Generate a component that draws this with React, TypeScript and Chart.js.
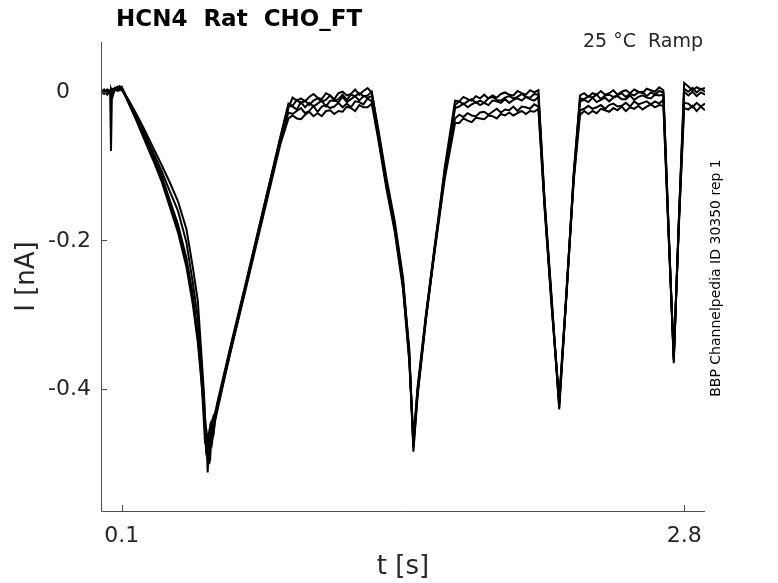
import React, { useEffect, useRef } from 'react';
import { Chart, registerables } from 'chart.js';

Chart.register(...registerables);

// time base shared by every sweep (s)
const sweepTimes = [
  0, 0.015, 0.03, 0.044, 0.048, 0.052, 0.065, 0.08, 0.09, 0.1,
  0.13, 0.17, 0.21, 0.25, 0.29, 0.33, 0.37, 0.41, 0.44, 0.465,
  0.48, 0.487, 0.494, 0.5, 0.506, 0.512, 0.518, 0.525, 0.532, 0.54, 0.55, 0.56,
  0.62, 0.7, 0.78, 0.86, 0.9,
  0.92, 0.94, 0.96, 0.98, 1, 1.02, 1.04, 1.06, 1.08, 1.1, 1.12, 1.14, 1.16, 1.18, 1.2, 1.22, 1.24, 1.26, 1.28, 1.3,
  1.33, 1.37, 1.41, 1.45, 1.48, 1.5, 1.52, 1.56, 1.6, 1.65, 1.7,
  1.72, 1.74, 1.76, 1.78, 1.8, 1.82, 1.84, 1.86, 1.88, 1.9, 1.92, 1.94, 1.96, 1.98, 2, 2.02, 2.04, 2.06, 2.08, 2.1,
  2.13, 2.165, 2.2, 2.235, 2.27, 2.3,
  2.32, 2.34, 2.36, 2.38, 2.4, 2.42, 2.44, 2.46, 2.48, 2.5, 2.52, 2.54, 2.56, 2.58, 2.6, 2.62, 2.64, 2.66, 2.68, 2.7,
  2.725, 2.75, 2.775, 2.8,
  2.82, 2.84, 2.86, 2.88, 2.9,
];

// current of each sweep (nA)
const sweep1 = [
  0, 0.003, -0.003, 0.002, -0.002, 0.001, 0.004, 0.007, 0.003, 0.006,
  -0.014, -0.039, -0.066, -0.092, -0.12, -0.155, -0.19, -0.236, -0.285, -0.338,
  -0.384, -0.405, -0.43, -0.462, -0.49, -0.47, -0.502, -0.468, -0.475, -0.458, -0.44, -0.428,
  -0.352, -0.258, -0.163, -0.067, -0.022,
  -0.008, -0.012, -0.009, -0.013, -0.007, -0.003, -0.008, -0.01, -0.002, -0.005, -0.01, -0.002, 0, -0.005, -0.003, 0.003, -0.004, 0.001, 0.005, -0.001,
  -0.048, -0.115, -0.174, -0.25, -0.352, -0.48, -0.41, -0.308, -0.217, -0.103, -0.012,
  -0.013, -0.007, -0.01, -0.012, -0.006, -0.009, -0.004, -0.009, -0.005, -0.008, -0.003, -0.001, -0.004, -0.005, 0.001, -0.002, -0.004, 0.002, -0.001, 0.002,
  -0.146, -0.282, -0.428, -0.27, -0.108, -0.005,
  -0.002, -0.007, -0.002, -0.004, 0.001, -0.004, -0.002, 0.002, -0.004, 0, 0.002, -0.002, 0.003, 0, -0.002, 0.004, 0.002, 0, 0.006, 0.002,
  -0.18, -0.366, -0.168, 0.012,
  0.007, 0.002, 0.006, 0.003, 0.005,
];
const sweep2 = [
  -0.002, 0, 0.002, -0.003, -0.08, -0.01, 0.002, 0.004, 0.007, 0.003,
  -0.013, -0.037, -0.063, -0.089, -0.117, -0.151, -0.185, -0.23, -0.279, -0.332,
  -0.378, -0.41, -0.445, -0.475, -0.455, -0.513, -0.48, -0.455, -0.468, -0.463, -0.435, -0.421,
  -0.348, -0.254, -0.158, -0.062, -0.016,
  -0.019, -0.011, -0.016, -0.012, -0.018, -0.012, -0.009, -0.013, -0.011, -0.005, -0.012, -0.01, -0.004, -0.011, -0.004, -0.006, -0.002, -0.006, -0.005, 0,
  -0.052, -0.12, -0.178, -0.255, -0.355, -0.472, -0.402, -0.303, -0.212, -0.107, -0.018,
  -0.013, -0.017, -0.013, -0.01, -0.015, -0.012, -0.015, -0.009, -0.007, -0.011, -0.012, -0.008, -0.006, -0.009, -0.007, -0.003, -0.007, -0.008, -0.003, -0.004,
  -0.15, -0.287, -0.42, -0.272, -0.111, -0.009,
  -0.01, -0.006, -0.008, -0.004, -0.01, -0.005, -0.004, -0.007, -0.005, -0.002, -0.007, -0.003, -0.005, -0.001, 0, -0.006, -0.001, -0.004, 0.001, -0.001,
  -0.184, -0.36, -0.17, 0.004,
  0, 0.005, -0.001, 0.004, 0,
];
const sweep3 = [
  0.001, -0.002, 0.003, 0, 0.001, -0.003, 0.004, 0.001, 0.006, 0.004,
  -0.011, -0.035, -0.06, -0.086, -0.112, -0.146, -0.179, -0.224, -0.272, -0.326,
  -0.37, -0.395, -0.425, -0.455, -0.486, -0.46, -0.478, -0.49, -0.45, -0.442, -0.44, -0.425,
  -0.35, -0.256, -0.16, -0.064, -0.019,
  -0.02, -0.024, -0.014, -0.021, -0.015, -0.02, -0.016, -0.012, -0.02, -0.012, -0.012, -0.014, -0.007, -0.014, -0.01, -0.006, -0.012, -0.006, -0.008, -0.006,
  -0.055, -0.123, -0.181, -0.258, -0.346, -0.485, -0.408, -0.306, -0.218, -0.11, -0.022,
  -0.02, -0.016, -0.021, -0.017, -0.014, -0.018, -0.015, -0.018, -0.012, -0.013, -0.015, -0.01, -0.015, -0.011, -0.009, -0.012, -0.007, -0.01, -0.012, -0.007,
  -0.152, -0.289, -0.425, -0.274, -0.113, -0.013,
  -0.011, -0.014, -0.008, -0.014, -0.011, -0.008, -0.013, -0.008, -0.006, -0.01, -0.01, -0.005, -0.011, -0.007, -0.005, -0.008, -0.009, -0.004, -0.005, -0.004,
  -0.186, -0.362, -0.172, 0,
  -0.005, 0, -0.006, -0.001, -0.004,
];
const sweep4 = [
  -0.001, 0.002, -0.004, 0.002, 0, 0.004, 0.001, 0.005, 0.002, 0.006,
  -0.011, -0.033, -0.057, -0.081, -0.106, -0.134, -0.161, -0.203, -0.256, -0.305,
  -0.36, -0.39, -0.415, -0.445, -0.47, -0.495, -0.46, -0.45, -0.462, -0.447, -0.43, -0.417,
  -0.345, -0.252, -0.157, -0.066, -0.028,
  -0.03, -0.026, -0.022, -0.029, -0.026, -0.019, -0.027, -0.02, -0.018, -0.022, -0.02, -0.015, -0.021, -0.016, -0.021, -0.013, -0.014, -0.017, -0.009, -0.013,
  -0.058, -0.126, -0.184, -0.262, -0.36, -0.468, -0.398, -0.3, -0.214, -0.114, -0.036,
  -0.031, -0.034, -0.029, -0.032, -0.033, -0.028, -0.027, -0.031, -0.027, -0.023, -0.028, -0.024, -0.025, -0.02, -0.026, -0.02, -0.021, -0.023, -0.017, -0.02,
  -0.155, -0.292, -0.415, -0.268, -0.116, -0.025,
  -0.023, -0.019, -0.023, -0.021, -0.018, -0.023, -0.018, -0.016, -0.02, -0.019, -0.015, -0.02, -0.013, -0.017, -0.015, -0.013, -0.017, -0.013, -0.016, -0.011,
  -0.19, -0.355, -0.175, -0.015,
  -0.016, -0.021, -0.015, -0.02, -0.016,
];
const sweep5 = [
  0.002, -0.003, 0, -0.001, 0.003, 0, 0.005, 0.002, 0.007, 0.002,
  -0.01, -0.03, -0.052, -0.075, -0.098, -0.122, -0.148, -0.185, -0.235, -0.282,
  -0.345, -0.375, -0.405, -0.44, -0.462, -0.475, -0.488, -0.472, -0.445, -0.437, -0.432, -0.422,
  -0.353, -0.26, -0.166, -0.072, -0.036,
  -0.032, -0.036, -0.037, -0.031, -0.027, -0.033, -0.029, -0.033, -0.026, -0.025, -0.03, -0.026, -0.027, -0.02, -0.022, -0.026, -0.018, -0.021, -0.021, -0.016,
  -0.062, -0.13, -0.188, -0.266, -0.363, -0.476, -0.404, -0.304, -0.22, -0.118, -0.042,
  -0.042, -0.036, -0.039, -0.041, -0.035, -0.036, -0.037, -0.032, -0.033, -0.036, -0.03, -0.032, -0.028, -0.032, -0.029, -0.026, -0.03, -0.026, -0.027, -0.023,
  -0.158, -0.295, -0.418, -0.273, -0.119, -0.031,
  -0.026, -0.03, -0.026, -0.029, -0.023, -0.025, -0.027, -0.022, -0.025, -0.02, -0.026, -0.021, -0.023, -0.019, -0.024, -0.02, -0.017, -0.021, -0.018, -0.019,
  -0.192, -0.358, -0.178, -0.022,
  -0.024, -0.019, -0.026, -0.02, -0.025,
];
const sweeps = [sweep1, sweep2, sweep3, sweep4, sweep5];

const xTicks = [0.1, 2.8];
const yTicks = [-0.4, -0.2, 0];

const titleText = 'HCN4  Rat  CHO_FT';
const conditionText = '25 °C  Ramp';
const sourceText = 'BBP Channelpedia ID 30350 rep 1';

const FONT = '"DejaVu Sans"';
const TEXT_COLOR = '#262626';

// MATLAB-like axes: inward ticks, y labels lined up on the decimal point, extra texts
const matlabAxes = {
  id: 'matlabAxes',
  afterDraw(chart: any) {
    const { ctx, chartArea, scales } = chart;
    const { left, right, top, bottom } = chartArea;
    ctx.save();
    ctx.strokeStyle = '#4d4d4d';
    ctx.lineWidth = 1;
    ctx.beginPath();
    ctx.moveTo(left + 0.5, top);
    ctx.lineTo(left + 0.5, bottom + 0.5);
    ctx.lineTo(right, bottom + 0.5);
    yTicks.forEach((v) => {
      const y = Math.round(scales.y.getPixelForValue(v)) + 0.5;
      ctx.moveTo(left, y);
      ctx.lineTo(left + 6, y);
    });
    xTicks.forEach((v) => {
      const x = Math.round(scales.x.getPixelForValue(v)) + 0.5;
      ctx.moveTo(x, bottom);
      ctx.lineTo(x, bottom - 6);
    });
    ctx.stroke();

    ctx.fillStyle = TEXT_COLOR;
    ctx.font = `22px ${FONT}`;
    ctx.textBaseline = 'middle';
    const pointX = left - 31;
    yTicks.forEach((v) => {
      const [intPart, fracPart] = String(v).split('.');
      const y = scales.y.getPixelForValue(v) + 1;
      ctx.textAlign = 'right';
      ctx.fillText(intPart, pointX, y);
      if (fracPart) {
        ctx.textAlign = 'left';
        ctx.fillText('.' + fracPart, pointX, y);
      }
    });

    ctx.fillStyle = '#000';
    ctx.textBaseline = 'alphabetic';
    ctx.textAlign = 'left';
    ctx.font = `bold 23px ${FONT}`;
    ctx.fillText(titleText, 116, 26);

    ctx.fillStyle = TEXT_COLOR;
    ctx.textAlign = 'right';
    ctx.font = `19px ${FONT}`;
    ctx.fillText(conditionText, 703, 47);

    ctx.translate(716, 278);
    ctx.rotate(-Math.PI / 2);
    ctx.textAlign = 'center';
    ctx.textBaseline = 'middle';
    ctx.fillStyle = '#000';
    ctx.font = `14px ${FONT}`;
    ctx.fillText(sourceText, 0, 0);
    ctx.restore();
  },
};

const App: React.FC = () => {
  const canvasRef = useRef<HTMLCanvasElement | null>(null);
  const chartRef = useRef<Chart | null>(null);

  useEffect(() => {
    if (!canvasRef.current) return;
    const ctx = canvasRef.current.getContext('2d');
    if (chartRef.current) {
      chartRef.current.destroy();
    }

    chartRef.current = new Chart(ctx!, {
      type: 'line',
      data: {
        datasets: sweeps.map((sweep, i) => ({
          label: `sweep ${i + 1}`,
          data: sweepTimes.map((t, j) => ({ x: t, y: sweep[j] })),
          borderColor: '#000',
          borderWidth: 2,
          pointRadius: 0,
          tension: 0,
          fill: false,
        })),
      },
      options: {
        responsive: false,
        animation: false,
        devicePixelRatio: 1,
        layout: { padding: { left: 0, right: 73, top: 42, bottom: 0 } },
        plugins: {
          legend: { display: false },
          tooltip: { enabled: false },
          title: { display: false },
        },
        scales: {
          x: {
            type: 'linear',
            min: 0,
            max: 2.9,
            grid: { display: false, drawTicks: false },
            border: { display: false },
            afterBuildTicks: (scale: any) => {
              scale.ticks = xTicks.map((v) => ({ value: v }));
            },
            afterFit: (scale: any) => {
              scale.height = 72;
            },
            ticks: {
              autoSkip: false,
              maxRotation: 0,
              padding: 12,
              color: TEXT_COLOR,
              font: { family: 'DejaVu Sans', size: 22 },
              callback: (v: any) => String(v),
            },
            title: {
              display: true,
              text: 't [s]',
              color: TEXT_COLOR,
              font: { family: 'DejaVu Sans', size: 26 },
              padding: { top: 0, bottom: 0 },
            },
          },
          y: {
            type: 'linear',
            min: -0.565,
            max: 0.067,
            grid: { display: false, drawTicks: false },
            border: { display: false },
            afterBuildTicks: (scale: any) => {
              scale.ticks = yTicks.map((v) => ({ value: v }));
            },
            afterFit: (scale: any) => {
              scale.width = 101;
            },
            ticks: { display: false },
            title: {
              display: true,
              text: 'I [nA]',
              color: TEXT_COLOR,
              font: { family: 'DejaVu Sans', size: 26 },
              padding: { top: 12, bottom: 0 },
            },
          },
        },
      },
      plugins: [matlabAxes],
    });

    return () => {
      if (chartRef.current) {
        chartRef.current.destroy();
        chartRef.current = null;
      }
    };
  }, []);

  return (
    <div style={{ position: 'absolute', left: 0, top: 0, width: 778, height: 583, background: '#fff' }}>
      <canvas ref={canvasRef} width="778" height="583"></canvas>
    </div>
  );
};

export default App;
